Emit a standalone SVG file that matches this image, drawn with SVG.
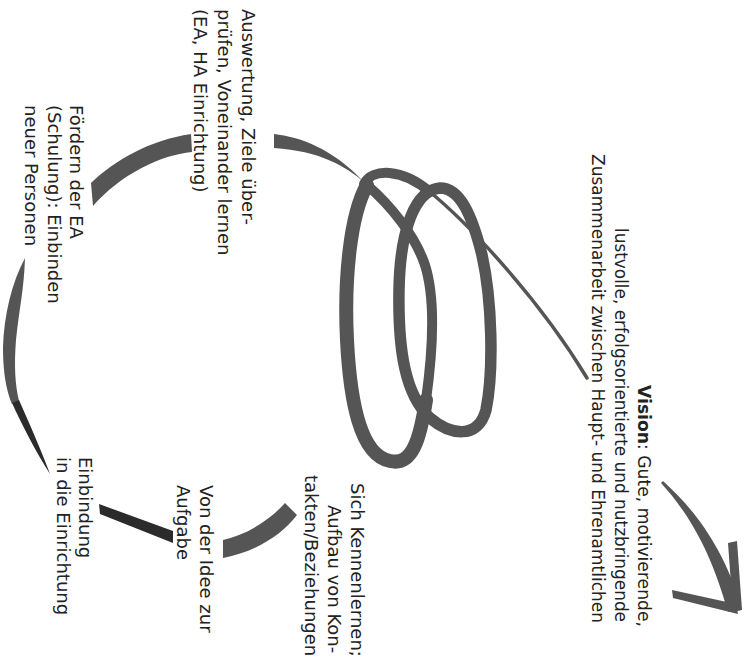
<svg xmlns="http://www.w3.org/2000/svg" width="754" height="662" viewBox="0 0 754 662">
<style>
text { font-family: "DejaVu Sans", "Liberation Sans", sans-serif; font-size: 18px; fill: #222; }
.band { fill: #555; }
.dark { fill: #2b2b2b; }
.loop { fill: none; stroke: #555; stroke-linejoin: round; stroke-linecap: round; }
</style>
<rect width="754" height="662" fill="#fff"/>
<g id="connectors">
  <!-- top-left arc -->
  <path class="band" d="M 91,183 C 115,160 150,140 191,134 L 192,152 C 160,155 120,175 93,206 Z"/>
  <!-- left long arc -->
  <path class="band" d="M 25,258 C 12,282 4,315 3,347 C 3,375 7,392 12,404 L 19,401 C 15,385 14,365 16,340 C 19,310 24,290 25,258 Z"/>
  <path class="dark" d="M 12,403 C 22,425 36,452 50,474 C 42,452 30,425 19,400 Z"/>
  <!-- bottom short dark stroke -->
  <path class="dark" d="M 99,504 L 173,531 L 173,543 L 100,514 Z"/>
  <!-- bottom arc -->
  <path class="band" d="M 223,540 C 245,535 268,522 285,503 L 297,515 C 282,535 255,552 223,558 Z"/>
  <!-- lead-in to loops -->
  <path class="band" d="M 274,134 C 300,137 332,148 364,182 C 345,166 320,151 274,148 Z"/>
  <!-- loop A: left side and bottom -->
  <path class="loop" stroke-width="14" d="M 367,185 C 350,215 344,280 347,340 C 350,400 360,455 390,461 C 412,466 420,440 426,400"/>
  <!-- loop A: right side -->
  <path class="loop" stroke-width="10" d="M 426,400 C 433,350 436,300 425,265 C 415,235 390,205 367,185"/>
  <!-- loop B -->
  <path class="loop" stroke-width="11.5" d="M 440,188 C 415,190 400,230 399,290 C 398,350 405,395 430,418 C 450,435 478,440 486,410 C 494,370 492,300 482,255 C 472,215 460,188 440,188 Z"/>
  <!-- top arc of the loops -->
  <path class="loop" stroke-width="10" d="M 364,184 C 372,168 402,168 430,192"/>
  <!-- thin line to vision -->
  <path class="loop" stroke-width="3.5" d="M 430,192 C 470,225 540,300 587,378"/>
  <!-- vision arrow -->
  <path class="band" d="M 661,483 C 690,515 711,552 728,612 L 741,605 C 723,548 697,512 663,481 Z"/>
  <path class="band" d="M 728,543 L 737,541 L 742,610 L 733,612 Z"/>
  <path class="band" d="M 672,590 L 736,604 L 738,614 L 673,598 Z"/>
</g>
<g id="node-auswertung" transform="rotate(90)">
  <text x="9" y="-242">Auswertung, Ziele über-</text>
  <text x="9" y="-218">prüfen, Voneinander lernen</text>
  <text x="9" y="-194">(EA, HA Einrichtung)</text>
</g>
<g id="node-foerdern" transform="rotate(90)">
  <text x="105" y="-70">Fördern der EA</text>
  <text x="105" y="-47.5">(Schulung): Einbinden</text>
  <text x="105" y="-25">neuer Personen</text>
</g>
<g id="node-einbindung" transform="rotate(90)">
  <text x="457" y="-79">Einbindung</text>
  <text x="457" y="-57">in die Einrichtung</text>
</g>
<g id="node-idee" transform="rotate(90)">
  <text x="485" y="-200">Von der Idee zur</text>
  <text x="485" y="-177">Aufgabe</text>
</g>
<g id="node-kennenlernen" transform="rotate(90)">
  <text x="483" y="-351">Sich Kennenlernen;</text>
  <text x="505" y="-328">Aufbau von Kon-</text>
  <text x="475" y="-305">takten/Beziehungen</text>
</g>
<g id="node-vision" transform="rotate(90)">
  <text x="385" y="-638" textLength="242" lengthAdjust="spacingAndGlyphs"><tspan font-weight="bold">Vision</tspan>: Gute, motivierende,</text>
  <text x="228" y="-615" textLength="394" lengthAdjust="spacingAndGlyphs">lustvolle, erfolgsorientierte und nutzbringende</text>
  <text x="154" y="-592" textLength="469" lengthAdjust="spacingAndGlyphs">Zusammenarbeit zwischen Haupt- und Ehrenamtlichen</text>
</g>
</svg>
